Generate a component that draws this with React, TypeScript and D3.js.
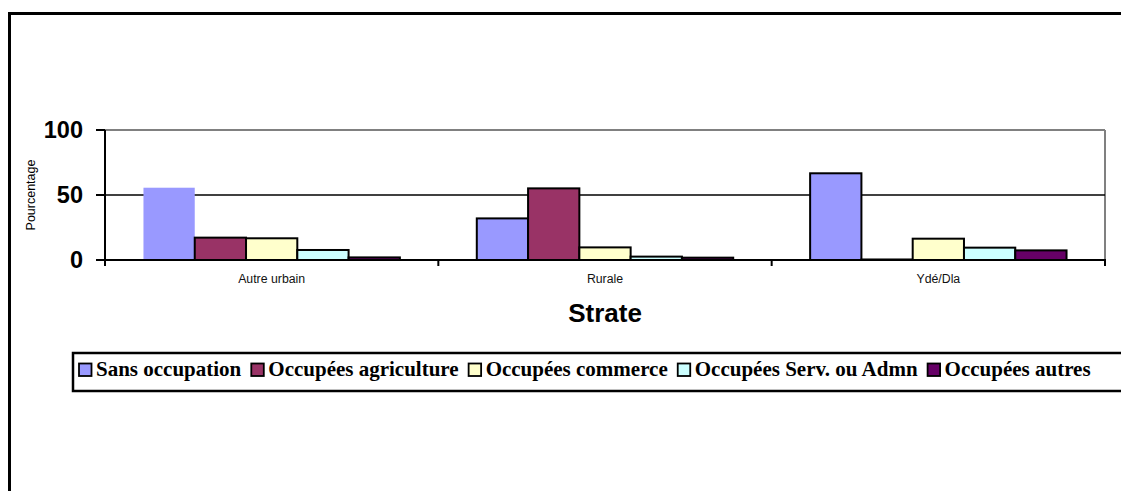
import React, { useEffect, useRef } from "react";
import * as d3 from "d3";

const categories = ["Autre urbain", "Rurale", "Ydé/Dla"];
const seriesNames = [
  "Sans occupation",
  "Occupées agriculture",
  "Occupées commerce",
  "Occupées Serv. ou Admn",
  "Occupées autres",
];
const seriesColors = ["#9999FF", "#993366", "#FFFFCC", "#CCFFFF", "#660066"];
// values per series, one entry per category
const sansOccupation = [55.6, 32.0, 66.7];
const agriculture = [17.2, 55.1, 0.4];
const commerce = [16.7, 9.7, 16.4];
const servAdmn = [7.7, 2.6, 9.5];
const autres = [2.0, 1.8, 7.4];
const seriesValues = [sansOccupation, agriculture, commerce, servAdmn, autres];
const yTicks = [0, 50, 100];

const W = 1121;
const H = 491;

export default function App() {
  const ref = useRef<SVGSVGElement>(null);

  useEffect(() => {
    const svg = d3.select(ref.current);
    svg.selectAll("*").remove();

    const left = 105;
    const right = 1105;
    const top = 130;
    const bottom = 260;
    const sans = "Liberation Sans, Arial, sans-serif";

    const x0 = d3.scaleBand<string>().domain(categories).range([left, right]).paddingInner(0).paddingOuter(0);
    const bw = x0.bandwidth() / 6.5; // gap width 150%
    const y = d3.scaleLinear().domain([0, 100]).range([bottom, top]);

    // outer frame (top and left edges visible)
    svg.append("path").attr("d", `M9.5,${H} L9.5,13.5 L${W},13.5`)
      .attr("fill", "none").attr("stroke", "black").attr("stroke-width", 3);

    // plot area border (gray)
    svg.append("line").attr("x1", left).attr("x2", right).attr("y1", y(100)).attr("y2", y(100))
      .attr("stroke", "#808080").attr("stroke-width", 2);
    svg.append("line").attr("x1", right).attr("x2", right).attr("y1", y(100)).attr("y2", y(0))
      .attr("stroke", "#808080").attr("stroke-width", 2);

    // gridline at 50
    svg.append("line").attr("x1", left).attr("x2", right).attr("y1", y(50)).attr("y2", y(50))
      .attr("stroke", "black").attr("stroke-width", 1.5);

    // bars
    seriesValues.forEach((vals, si) => {
      vals.forEach((v, ci) => {
        const bx = (x0(categories[ci]) as number) + bw * 0.75 + si * bw;
        const r = svg.append("rect")
          .attr("x", bx).attr("y", y(v)).attr("width", bw).attr("height", y(0) - y(v))
          .attr("fill", seriesColors[si]);
        if (!(si === 0 && ci === 0)) {
          r.attr("stroke", "black").attr("stroke-width", 2);
        }
      });
    });

    // axes
    svg.append("line").attr("x1", left).attr("x2", left).attr("y1", y(100)).attr("y2", y(0) + 1)
      .attr("stroke", "black").attr("stroke-width", 2);
    svg.append("line").attr("x1", left).attr("x2", right + 1).attr("y1", y(0)).attr("y2", y(0))
      .attr("stroke", "black").attr("stroke-width", 2);

    // y ticks + labels
    yTicks.forEach((t) => {
      svg.append("line").attr("x1", left - 9).attr("x2", left).attr("y1", y(t)).attr("y2", y(t))
        .attr("stroke", "black").attr("stroke-width", 2);
      svg.append("text").attr("x", 83).attr("y", y(t)).attr("dy", "0.36em")
        .attr("text-anchor", "end").attr("font-family", sans)
        .attr("font-weight", "bold").attr("font-size", 23.5).text(String(t));
    });

    // x ticks at category boundaries
    const bounds = categories.map((c) => x0(c) as number).concat([right]);
    bounds.forEach((bx) => {
      svg.append("line").attr("x1", bx).attr("x2", bx).attr("y1", y(0)).attr("y2", y(0) + 6)
        .attr("stroke", "black").attr("stroke-width", 2);
    });

    categories.forEach((c) => {
      svg.append("text").attr("x", (x0(c) as number) + x0.bandwidth() / 2).attr("y", 283)
        .attr("text-anchor", "middle").attr("font-family", sans)
        .attr("font-size", 12.3).attr("fill", "#111").text(c);
    });

    // axis titles
    svg.append("text").attr("transform", `translate(35,${(top + bottom) / 2}) rotate(-90)`)
      .attr("text-anchor", "middle").attr("font-family", sans)
      .attr("font-size", 12.5).text("Pourcentage");
    svg.append("text").attr("x", (left + right) / 2).attr("y", 322)
      .attr("text-anchor", "middle").attr("font-family", sans)
      .attr("font-weight", "bold").attr("font-size", 26).text("Strate");

    // legend (box runs past the right edge)
    const lg = svg.append("g");
    lg.append("path").attr("d", `M${W},353 L73,353 L73,391 L${W},391`)
      .attr("fill", "white").attr("stroke", "black").attr("stroke-width", 2.5);
    let cx = 79;
    seriesNames.forEach((name, i) => {
      lg.append("rect").attr("x", cx).attr("y", 363.5).attr("width", 12.5).attr("height", 12.5)
        .attr("fill", seriesColors[i]).attr("stroke", "black").attr("stroke-width", 1.8);
      const t = lg.append("text").attr("x", cx + 17).attr("y", 376)
        .attr("font-family", "Liberation Serif, Times New Roman, serif")
        .attr("font-weight", "bold").attr("font-size", 21).text(name);
      const tw = (t.node() as SVGTextElement).getComputedTextLength();
      cx = cx + 17 + tw + 10;
    });
  }, []);

  return (
    <svg ref={ref} width={W} height={H}
      style={{ position: "absolute", left: 0, top: 0, background: "white", overflow: "hidden" }} />
  );
}
